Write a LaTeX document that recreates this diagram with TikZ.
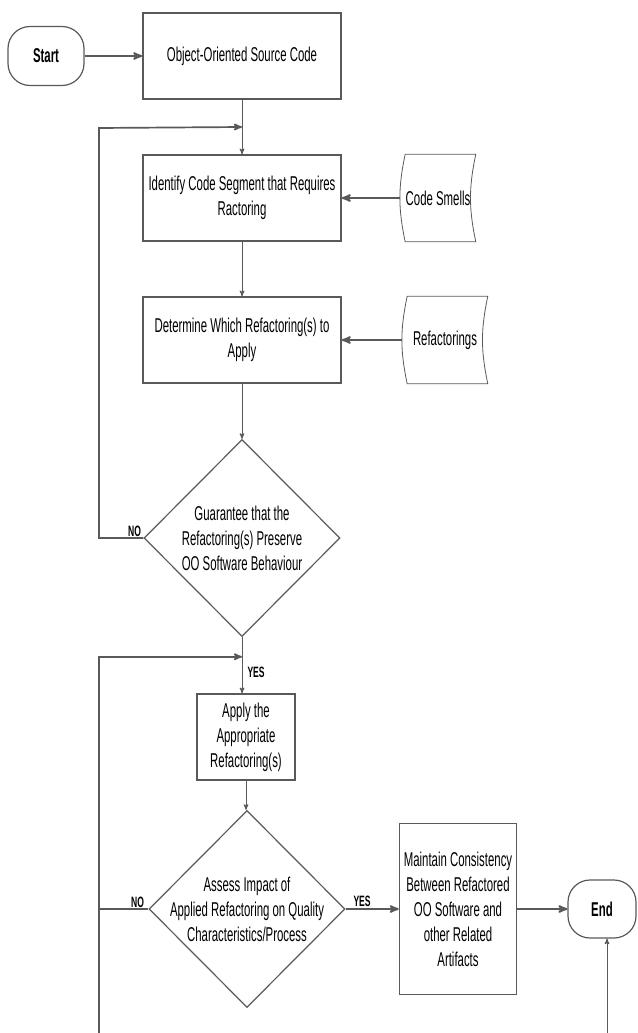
\documentclass[tikz,border=0pt]{standalone}
\usepackage{fontspec}
\setmainfont[FakeStretch=0.57]{Liberation Sans}
\usepackage{tikz}
\usetikzlibrary{arrows,shapes.geometric}
\definecolor{linegray}{HTML}{595959}

\begin{document}
\begin{tikzpicture}[x=1pt,y=-1pt,->,>=stealth',semithick,
		font=\fontsize{20}{25}\selectfont,
		proc/.style={rectangle,draw=linegray,line width=1.5pt,minimum width=198pt,
			minimum height=86pt,align=center,inner sep=2pt},
		term/.style={rectangle,rounded corners=22pt,draw=linegray,line width=1.2pt,
			minimum width=76pt,minimum height=59pt,font=\fontsize{20}{25}\selectfont\bfseries},
		decide/.style={diamond,draw=linegray,line width=1.2pt,inner sep=0pt,
			minimum width=196pt,minimum height=197pt},
		doc/.style={minimum width=75pt,minimum height=87pt,inner sep=0pt},
		flow/.style={draw=linegray,line width=1pt},
		feed/.style={draw=linegray,line width=2pt},
		back/.style={draw=linegray,line width=1.7pt},
		lab/.style={font=\fontsize{15}{18}\selectfont\bfseries,inner sep=1pt}]
	\useasboundingbox (0,0) rectangle (637,1033);
	%\draw[help lines] (0,0) grid[step=50] (637,1033);

	\node[proc]          (oo)     at (242,56)                   {Object-Oriented Source Code};
	\node[term]          (start)  [left of=oo, node distance=196pt]   {Start};
	\node[proc]          (ident)  [below of=oo, node distance=142pt]  {Identify Code Segment that Requires\\Ractoring};
	\node[doc]           (smells) [right of=ident, node distance=196pt] {Code Smells};
	\node[proc]          (determ) [below of=ident, node distance=142pt] {Determine Which Refactoring(s) to\\Apply};
	\node[doc, minimum width=85pt] (refs) [right of=determ, node distance=203pt] {Refactorings};
	\node[decide, label={[align=center]center:Guarantee that the\\Refactoring(s) Preserve\\OO Software Behaviour}]
	                     (guar)   [below of=determ, node distance=198pt] {};
	\node[proc, minimum width=98pt] (apply) [below of=guar, node distance=199pt, xshift=4pt] {Apply the\\Appropriate\\Refactoring(s)};
	\node[decide, label={[align=center]center:Assess Impact of\\Applied Refactoring on Quality\\Characteristics/Process}]
	                     (assess) [below of=apply, node distance=172pt, xshift=1pt] {};
	\node[proc, minimum width=117pt, minimum height=171pt] (maint) [right of=assess, node distance=211pt]
	                     {Maintain Consistency\\Between Refactored\\OO Software and\\other Related\\Artifacts};
	\node[term, minimum width=68pt, minimum height=58pt] (end) [right of=maint, node distance=144pt] {End};

	% stored data outlines
	\foreach \d in {smells,refs}
		\draw[-,draw=linegray,line width=.8pt] ([xshift=5pt]\d.north west) -- (\d.north east)
			to[bend right=12] (\d.south east) -- ([xshift=5pt]\d.south west)
			to[bend left=12] ([xshift=5pt]\d.north west);

	\path (oo.south) -- coordinate[pos=.5] (j1) (ident.north);
	\path (guar.south) -- coordinate[pos=.35] (j2) (guar.south |- apply.north);
	\coordinate (l1) at (99,128);
	\coordinate (l2) at (99,1033);
	\coordinate (e0) at (607,1033);

	\draw[feed] (start) -- (oo);
	\draw[flow] (oo) -- (ident);
	\draw[feed] (smells.west) -- (ident.east);
	\draw[flow] (ident) -- (determ);
	\draw[feed] (refs.west) -- (determ.east);
	\draw[flow] (determ) -- (guar);
	\draw[back] (guar.west) -| node[lab, pos=.1, above] {NO} (l1) -- (j1);
	\draw[flow] (guar.south) -- (guar.south |- apply.north) node[lab, pos=.63, right=4pt] {YES};
	\draw[back] (l2) -- (l2 |- j2) -- (j2);
	\draw[flow] (apply.south) -- (apply.south |- assess.north);
	\draw[back,-] (assess.west) -- (assess.west -| l2) node[lab, pos=.22, above] {NO};
	\draw[feed] (assess.east) -- (maint.west) node[lab, pos=.31, above] {YES};
	\draw[feed] (maint) -- (end);
	\draw[flow] (e0) -- (e0 |- end.south);
\end{tikzpicture}
\end{document}
